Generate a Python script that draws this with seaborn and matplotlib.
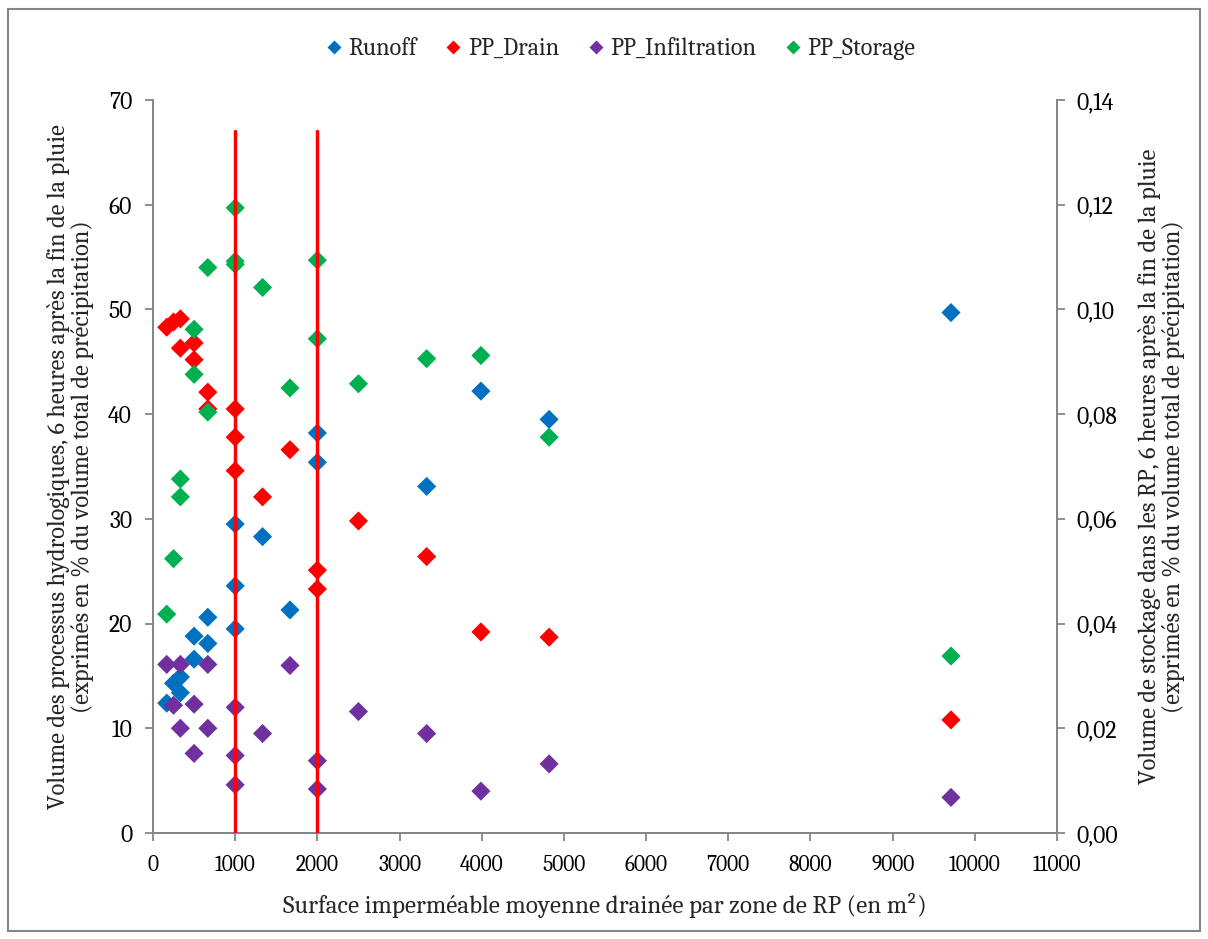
import pandas as pd
import matplotlib
matplotlib.use("Agg")
import matplotlib.pyplot as plt
import matplotlib.patches as mpatches
from matplotlib.lines import Line2D
from matplotlib.ticker import FuncFormatter, MultipleLocator
import seaborn as sns

# Mean drained impervious surface per RP zone (m2)
surface = [167, 250, 333, 333, 500, 500, 667, 667, 1000, 1000, 1000,
           1333, 1667, 2000, 2000, 2500, 3330, 3990, 4820, 9710]

# Runoff has no visible point at 2500
runoff_x = [167, 250, 333, 333, 500, 500, 667, 667, 1000, 1000, 1000,
            1333, 1667, 2000, 2000, 3330, 3990, 4820, 9710]
runoff = [12.4, 14.3, 14.9, 13.4, 18.8, 16.6, 20.6, 18.1, 19.5, 23.6, 29.5,
          28.3, 21.3, 38.2, 35.4, 33.1, 42.2, 39.5, 49.7]

pp_drain = [48.3, 48.8, 49.1, 46.3, 46.8, 45.2, 42.1, 40.5, 40.5, 37.8, 34.6,
            32.1, 36.6, 25.1, 23.3, 29.8, 26.4, 19.2, 18.7, 10.8]

pp_infiltration = [16.1, 12.2, 16.1, 10.0, 12.3, 7.6, 16.1, 10.0, 12.0, 7.4, 4.6,
                   9.5, 16.0, 6.9, 4.2, 11.6, 9.5, 4.0, 6.6, 3.4]

# storage, secondary axis
pp_storage = [0.0418, 0.0524, 0.0676, 0.0642, 0.0962, 0.0876, 0.1080, 0.0804,
              0.1194, 0.1092, 0.1086, 0.1042, 0.0850, 0.1094, 0.0944, 0.0858,
              0.0906, 0.0912, 0.0756, 0.0338]

thresholds = [1000, 2000]
threshold_top = 67

series_names = ["Runoff", "PP_Drain", "PP_Infiltration", "PP_Storage"]
colors = {"Runoff": "#0070C0", "PP_Drain": "#FF0000",
          "PP_Infiltration": "#7030A0", "PP_Storage": "#00B050"}

# long table for the primary axis
df = pd.concat([
    pd.DataFrame({"x": runoff_x, "y": runoff, "serie": "Runoff"}),
    pd.DataFrame({"x": surface, "y": pp_drain, "serie": "PP_Drain"}),
    pd.DataFrame({"x": surface, "y": pp_infiltration, "serie": "PP_Infiltration"}),
], ignore_index=True)
df_storage = pd.DataFrame({"x": surface, "y": pp_storage})

sns.set_style("ticks")
plt.rcParams["font.family"] = ["Caladea", "DejaVu Serif"]

fig = plt.figure(figsize=(12.08, 9.39), dpi=100)
ax = fig.add_axes([153 / 1208, 1 - 833 / 939, 904 / 1208, 733 / 939])
ax2 = ax.twinx()

sns.scatterplot(data=df, x="x", y="y", hue="serie", palette=colors, marker="D",
                s=95, edgecolor="none", legend=False, ax=ax)
sns.scatterplot(data=df_storage, x="x", y="y", color=colors["PP_Storage"], marker="D",
                s=95, edgecolor="none", legend=False, ax=ax2)

# threshold lines on top of everything
for t in thresholds:
    ax2.axvline(t, 0, threshold_top / 70, color="#FF0000", lw=2.5, zorder=5)

ax.set_xlim(0, 11000)
ax.set_ylim(0, 70)
ax2.set_ylim(0, 0.14)
ax.xaxis.set_major_locator(MultipleLocator(1000))
ax.yaxis.set_major_locator(MultipleLocator(10))
ax2.yaxis.set_major_locator(MultipleLocator(0.02))
ax2.yaxis.set_major_formatter(FuncFormatter(lambda v, p: f"{v:.2f}".replace(".", ",")))

spine_col = "#868686"
for a in (ax, ax2):
    for side in a.spines:
        a.spines[side].set_color(spine_col)
        a.spines[side].set_linewidth(1.3)
    a.spines["top"].set_visible(False)
    a.tick_params(colors=spine_col, length=6, width=1.3, labelcolor="black")

for lab in ax.get_yticklabels() + ax2.get_yticklabels():
    lab.set_fontsize(17)
for lab in ax.get_xticklabels():
    lab.set_fontsize(15.5)
ax.tick_params(axis="y", pad=9)
ax2.tick_params(axis="y", pad=8)
ax.tick_params(axis="x", pad=10)

ax.set_xlabel("Surface imperméable moyenne drainée par zone de RP (en m²)",
              fontsize=18, labelpad=12)
ax.set_ylabel("Volume des processus hydrologiques, 6 heures après la fin de la pluie\n"
              "(exprimés en % du volume total de précipitation)",
              fontsize=17.6, labelpad=10, linespacing=1.1)
ax2.set_ylabel("Volume de stockage dans les RP, 6 heures après la fin de la pluie\n"
               "(exprimés en % du volume total de précipitation)",
               fontsize=17.6, labelpad=14, linespacing=1.1)

handles = [Line2D([], [], ls="none", marker="D", ms=7, color=colors[n], mec="none")
           for n in series_names]
fig.legend(handles, series_names, loc="center", bbox_to_anchor=(0.512, 1 - 49 / 939),
           ncol=4, frameon=False, fontsize=17.5, handletextpad=0.1, columnspacing=1.0,
           handlelength=1.0)

# chart frame
fig.patches.append(mpatches.Rectangle((8 / 1208, 8 / 939), 1192 / 1208, 922 / 939,
                                      transform=fig.transFigure, fill=False,
                                      edgecolor=spine_col, lw=1.5))

fig.savefig("out.png", dpi=100, facecolor="white")
